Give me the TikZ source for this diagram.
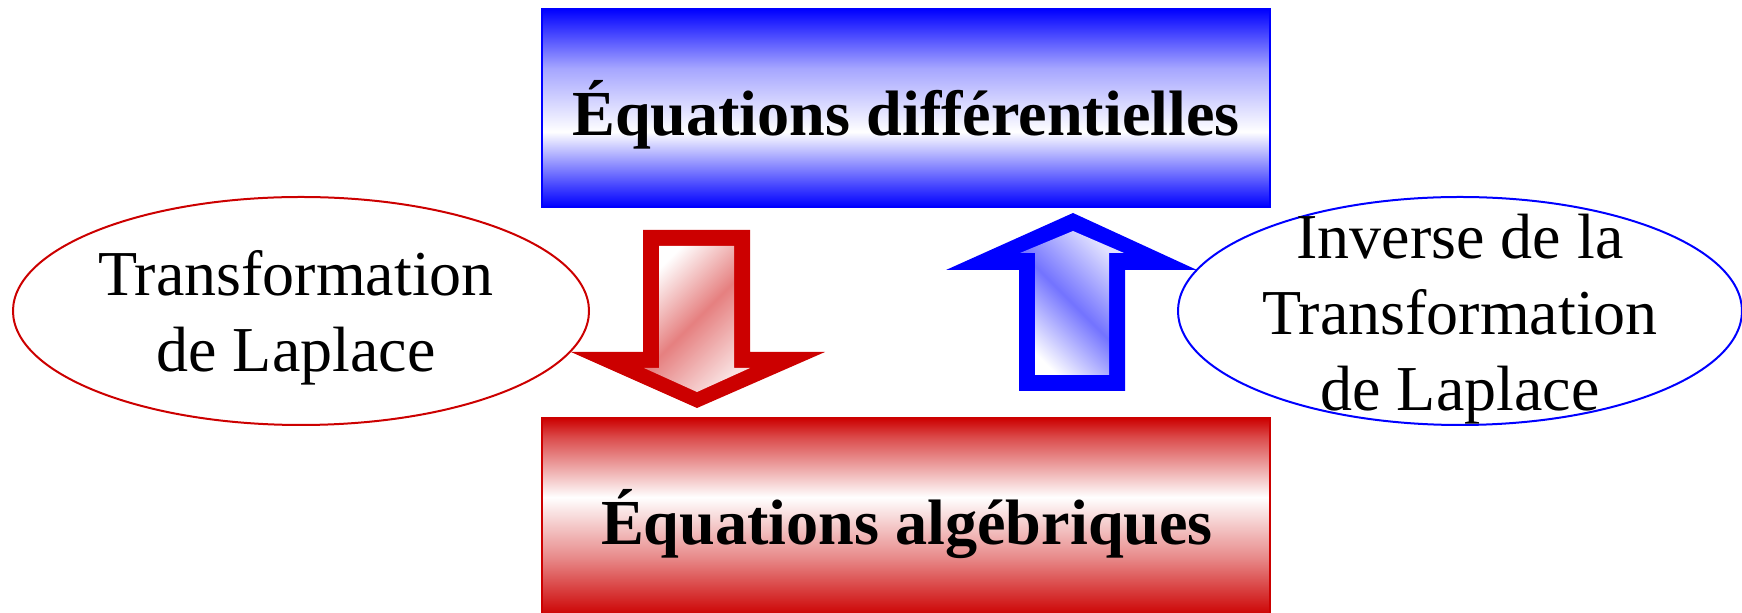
\documentclass[tikz,border=0pt]{standalone}
\usepackage{fontspec}
\setmainfont{Liberation Serif}
\usetikzlibrary{shapes.geometric}
\definecolor{rred}{RGB}{204,0,0}
\definecolor{bblue}{RGB}{0,0,255}
\pgfdeclareverticalshading{blueboxshade}{100bp}{color(0bp)=(bblue); color(25bp)=(bblue); color(30bp)=(bblue!75); color(44bp)=(white); color(60bp)=(bblue!35); color(75bp)=(bblue); color(100bp)=(bblue)}
\pgfdeclareverticalshading{redboxshade}{100bp}{color(0bp)=(rred); color(25bp)=(rred); color(40bp)=(rred!45); color(55bp)=(white); color(70bp)=(rred!70); color(75bp)=(rred); color(100bp)=(rred)}
\tikzset{
  eqbox/.style={rectangle, draw, line width=1pt, minimum width=364pt, minimum height=99pt, inner sep=0pt},
  eqtext/.style={font=\bfseries\fontsize{32.1}{39}\selectfont, inner sep=0pt, anchor=base},
  ellbox/.style={ellipse, draw, line width=1pt, minimum height=114pt, inner sep=0pt},
  elltext/.style={font=\fontsize{32}{38}\selectfont, align=center, inner sep=0pt},
}
\begin{document}
\begin{tikzpicture}[x=0.5pt,y=-0.5pt]
\useasboundingbox (0,0) rectangle (1742,613);
\clip (0,0) rectangle (1742,613);

% boxes
\node[eqbox, color=bblue, shading=blueboxshade] (topbox) at (906,108) {};
\node[eqtext] (toptext) at (906,136) {Équations différentielles};
\node[eqbox, color=rred, shading=redboxshade] (botbox) at (906,517) {};
\node[eqtext] (bottext) at (907,545) {Équations algébriques};

% red down arrow
\fill[rred] (643,230) -- (750,230) -- (750,352) -- (825,352) -- (697,408) -- (571,352) -- (643,352) -- cycle;
\shade[top color=white, bottom color=rred!12, middle color=rred!50, shading angle=45]
  (659,246) -- (734,246) -- (734,368) -- (750,368) -- (697,392) -- (644,368) -- (659,368) -- cycle;

% blue up arrow
\fill[bblue] (1073,213) -- (1197,270) -- (1125,270) -- (1125,391) -- (1019,391) -- (1019,270) -- (946,270) -- cycle;
\shade[top color=bblue!12, bottom color=white, middle color=bblue!55, shading angle=-45]
  (1073,231) -- (1124,253) -- (1109,253) -- (1109,375) -- (1035,375) -- (1035,253) -- (1020,253) -- cycle;

% ellipses
\node[ellbox, draw=rred, minimum width=288pt] (lell) at (301,311) {};
\node[elltext] (lelltext) at (296,318) {Transformation\\de Laplace};
\node[ellbox, draw=bblue, minimum width=282pt] (rell) at (1460,311) {};
\node[elltext] (relltext) at (1460,319) {Inverse de la\\Transformation\\de Laplace};
\end{tikzpicture}
\end{document}
